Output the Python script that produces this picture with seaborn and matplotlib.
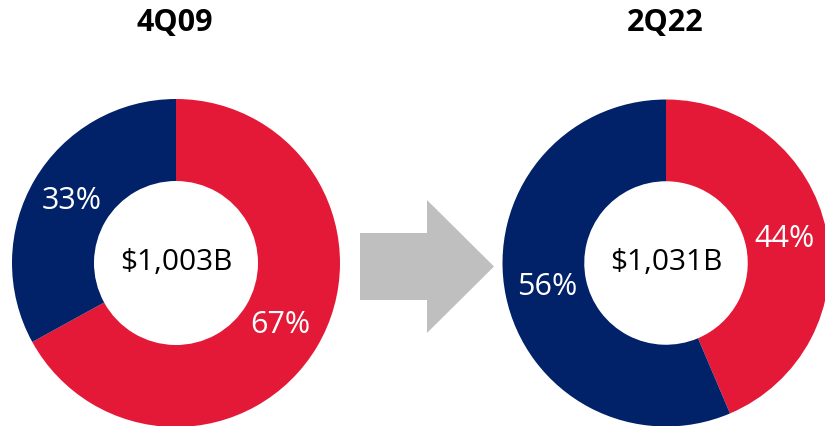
"""Deposit mix donuts: 4Q09 vs 2Q22."""

import matplotlib
matplotlib.use("Agg")
import matplotlib.pyplot as plt
from matplotlib.patches import FancyArrow
import seaborn as sns

periods = ["4Q09", "2Q22"]
totals = ["$1,003B", "$1,031B"]
segments = ["Red", "Navy"]
shares_4q09 = [67.0, 33.0]
shares_2q22 = [43.6, 56.4]

RED = "#E31937"
NAVY = "#012169"

sns.set_theme(style="white")
plt.rcParams["font.family"] = ["Open Sans", "DejaVu Sans"]

W, H = 825, 426
fig = plt.figure(figsize=(W / 100, H / 100), dpi=100)


def donut(ax, shares, total):
    wedges, _, autotexts = ax.pie(
        shares,
        colors=[RED, NAVY],
        startangle=90,
        counterclock=False,
        radius=1.0,
        autopct=lambda p: f"{p:.0f}%",
        pctdistance=0.74,
        wedgeprops=dict(width=0.5, linewidth=0),
        textprops=dict(color="white", fontsize=22),
    )
    for w in wedges:
        w.set_clip_on(False)
    ax.text(0, 0, total, ha="center", va="center", fontsize=21.5, color="black")
    ax.set_xlim(-1, 1)
    ax.set_ylim(-1, 1)
    ax.set_axis_off()


# donuts placed in pixel terms (centre, radius)
ax1 = fig.add_axes([(176 - 164) / W, (163 - 164) / H, 328 / W, 328 / H])
donut(ax1, shares_4q09, totals[0])
ax2 = fig.add_axes([(666 - 163.5) / W, (163 - 163.5) / H, 327 / W, 327 / H])
donut(ax2, shares_2q22, totals[1])

# gray arrow between the donuts
ov = fig.add_axes([0, 0, 1, 1], zorder=-1)
ov.set_xlim(0, W)
ov.set_ylim(H, 0)
ov.set_axis_off()
ov.add_patch(FancyArrow(360, 266.5, 134, 0, width=67, head_width=133, head_length=67,
                        length_includes_head=True, color="#BFBFBF", linewidth=0))

fig.text(175 / W, 1 - 23 / H, periods[0], ha="center", va="center",
         fontsize=22, fontweight="bold", color="black")
fig.text(665 / W, 1 - 23 / H, periods[1], ha="center", va="center",
         fontsize=22, fontweight="bold", color="black")

fig.savefig("out.png", dpi=100)
